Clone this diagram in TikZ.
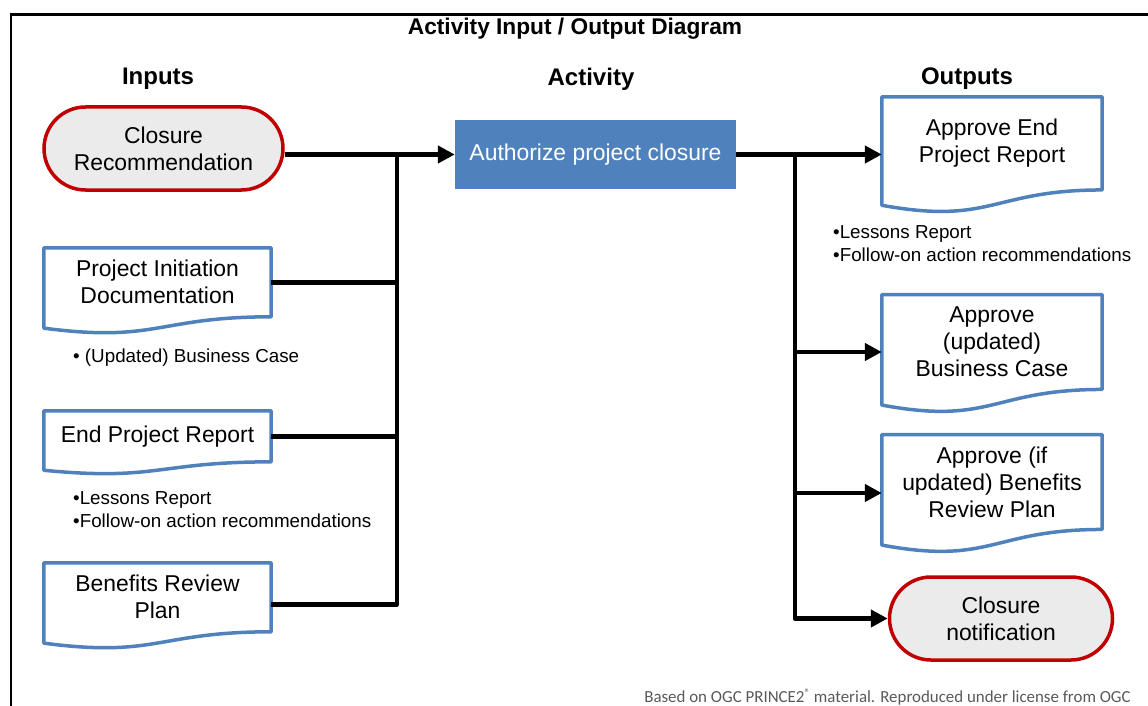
\documentclass[tikz,border=0pt]{standalone}
\usepackage{fontspec}
\setmainfont{Liberation Sans}
\newfontfamily\footfont{Carlito}
\usetikzlibrary{arrows.meta,calc}
\definecolor{docblue}{HTML}{4F81BD}
\definecolor{termred}{HTML}{C00000}
\definecolor{termfill}{HTML}{EBEBEB}
\definecolor{footgray}{HTML}{595959}
\newcommand{\docpath}[1]{%
  \draw[docline] let \p1=(#1.north west), \p2=(#1.south east) in
    (\p1) -- (\x2,\y1) -- (\p2)
    .. controls ({(\x1+\x2)/2},\y2) and ({(\x1+\x2)/2},{\y2-0.380*(\y1-\y2)})
    .. (\x1,{\y2-0.1646*(\y1-\y2)}) -- cycle;}
\begin{document}
\begin{tikzpicture}[x=1pt,y=-1pt,
  mainfont/.style={font=\fontsize{22.9}{27}\selectfont},
  doc/.style={mainfont, minimum width=227pt, inner sep=0pt, align=center},
  odoc/.style={doc, minimum width=220pt},
  docline/.style={draw=docblue, line width=3.5pt, line join=round},
  term/.style={mainfont, draw=termred, line width=3.5pt, fill=termfill, rounded corners=41.5pt, minimum height=83pt, inner sep=0pt, align=center},
  actbox/.style={mainfont, fill=docblue, text=white, minimum width=281pt, minimum height=69pt, inner sep=0pt},
  conn/.style={line width=4.5pt, line join=round},
  arr/.style={conn, -{Triangle[length=17pt,width=17pt]}},
  head/.style={font=\bfseries\fontsize{24}{28}\selectfont},
  note/.style={anchor=west, align=left, inner sep=0pt, font=\fontsize{18.8}{22.5}\selectfont}]
\useasboundingbox (0,0) rectangle (1148,706);
\draw[line width=2.5pt] (11,706) -- (11,14.5) -- (1148,14.5);

\node[font=\bfseries\fontsize{22.7}{26}\selectfont] (title) at (575,29) {Activity Input / Output Diagram};
\node[head] (hin) at (158,79) {Inputs};
\node[head] (hact) at (591,79) {Activity};
\node[head] (hout) at (967,79) {Outputs};

\node[term, minimum width=239pt] (cr) at (163.5,148.5) {Closure\\Recommendation};
\node[doc, minimum height=68.6pt] (pid) at (157.5,282.3) {Project Initiation\\Documentation};
\node[doc, minimum height=50.7pt] (epr) at (157.5,436.3) {End Project Report};
\node[doc, minimum height=68.6pt] (brp) at (157.5,597.3) {Benefits Review\\Plan};
\docpath{pid}\docpath{epr}\docpath{brp}

\node[note] (n1) at (73,358) {• (Updated) Business Case};
\node[note] (n2) at (73,509.5) {•Lessons Report\\•Follow-on action recommendations};

\node[actbox] (act) at (595.5,154.5) {Authorize project closure};

\node[odoc, minimum height=92.7pt] (aepr) at (992,143.4) {Approve End\\Project Report};
\node[odoc, minimum height=94.5pt] (abc) at (992,342) {Approve\\(updated)\\Business Case};
\node[odoc, minimum height=94.5pt] (abrp) at (992,482) {Approve (if\\updated) Benefits\\Review Plan};
\docpath{aepr}\docpath{abc}\docpath{abrp}
\node[term, minimum width=223pt] (cn) at (1001,618.5) {Closure\\notification};

\node[note] (n3) at (833,243.5) {•Lessons Report\\•Follow-on action recommendations};

\coordinate (ib) at (397,155);
\coordinate (ob) at (795,155);
\draw[arr] (cr.east |- act.west) -- (act.west);
\draw[conn] (ib) |- ([yshift=-7pt]brp.east);
\draw[conn] (pid.east) -- (pid.east -| ib);
\draw[conn] (epr.east) -- (epr.east -| ib);

\draw[arr] (act.east) -- (act.east -| aepr.west);
\draw[arr] (ob) |- (cn.west);
\draw[arr] ([yshift=-10pt]abc.west -| ob) -- ([yshift=-10pt]abc.west);
\draw[arr] ([yshift=-11pt]abrp.west -| ob) -- ([yshift=-11pt]abrp.west);

\node[font=\footfont\fontsize{16.9}{19}\selectfont, text=footgray] (foot) at (887.5,697) {Based on OGC PRINCE2\raisebox{0.35em}{\fontsize{11}{12}\selectfont ®} material. Reproduced under license from OGC};
\end{tikzpicture}
\end{document}
